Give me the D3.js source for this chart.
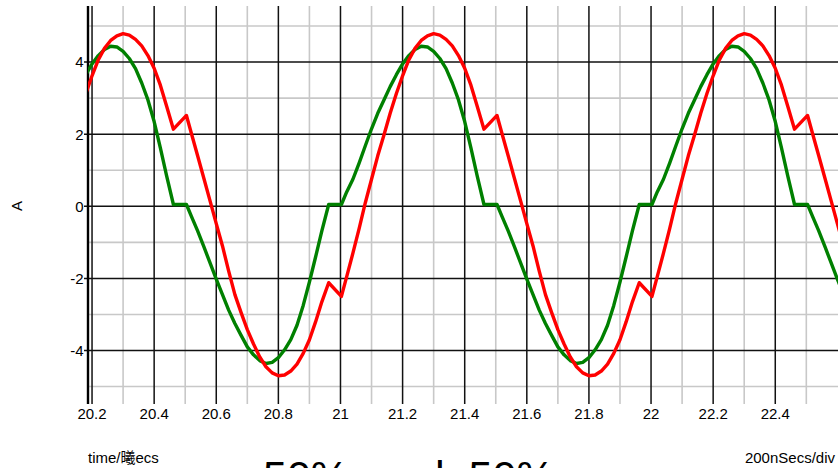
<!DOCTYPE html>
<html>
<head>
<meta charset="utf-8">
<script src="https://cdn.jsdelivr.net/npm/d3@7/dist/d3.min.js"></script>
<style>
  html, body { margin: 0; padding: 0; background: #fff; overflow: hidden; }
  svg { display: block; font-family: "Liberation Sans", Arial, "Noto Sans CJK SC", sans-serif; }
</style>
</head>
<body>
<svg id="chart" width="838" height="468"></svg>
<script>
// Sample times (µs)
const time = [
  20.18, 20.20, 20.22, 20.24, 20.26, 20.28, 20.30, 20.32, 20.34, 20.36, 20.38, 20.40, 20.42, 20.44, 20.462,
  20.504, 20.52, 20.54, 20.56, 20.58, 20.60, 20.62, 20.64, 20.66, 20.68, 20.70, 20.72, 20.74, 20.76, 20.78,
  20.80, 20.82, 20.84, 20.86, 20.88, 20.90, 20.92, 20.94, 20.962,
  21.003, 21.02, 21.04, 21.06, 21.08, 21.10, 21.12, 21.14, 21.16, 21.18, 21.20, 21.22, 21.24, 21.26, 21.28,
  21.30, 21.32, 21.34, 21.36, 21.38, 21.40, 21.42, 21.44, 21.462,
  21.504, 21.52, 21.54, 21.56, 21.58, 21.60, 21.62, 21.64, 21.66, 21.68, 21.70, 21.72, 21.74, 21.76, 21.78,
  21.80, 21.82, 21.84, 21.86, 21.88, 21.90, 21.92, 21.94, 21.962,
  22.003, 22.02, 22.04, 22.06, 22.08, 22.10, 22.12, 22.14, 22.16, 22.18, 22.20, 22.22, 22.24, 22.26, 22.28,
  22.30, 22.32, 22.34, 22.36, 22.38, 22.40, 22.42, 22.44, 22.462,
  22.504, 22.52, 22.54, 22.56, 22.58, 22.60, 22.62
];

// Red trace (A)
const redCurrent = [
  3.13, 3.62, 4.06, 4.38, 4.60, 4.73, 4.79, 4.75, 4.63, 4.45, 4.18, 3.83, 3.36, 2.78, 2.14,
  2.52, 2.02, 1.40, 0.78, 0.15, -0.48, -1.10, -1.80, -2.45, -2.95, -3.42, -3.82, -4.18, -4.45, -4.62,
  -4.70, -4.68, -4.57, -4.38, -4.08, -3.70, -3.20, -2.65, -2.12,
  -2.50, -1.95, -1.30, -0.62, 0.10, 0.75, 1.40, 1.98, 2.58, 3.13, 3.62, 4.06, 4.38, 4.60, 4.73,
  4.79, 4.75, 4.63, 4.45, 4.18, 3.83, 3.36, 2.78, 2.14,
  2.52, 2.02, 1.40, 0.78, 0.15, -0.48, -1.10, -1.80, -2.45, -2.95, -3.42, -3.82, -4.18, -4.45, -4.62,
  -4.70, -4.68, -4.57, -4.38, -4.08, -3.70, -3.20, -2.65, -2.12,
  -2.50, -1.95, -1.30, -0.62, 0.10, 0.75, 1.40, 1.98, 2.58, 3.13, 3.62, 4.06, 4.38, 4.60, 4.73,
  4.79, 4.75, 4.63, 4.45, 4.18, 3.83, 3.36, 2.78, 2.14,
  2.52, 2.02, 1.40, 0.78, 0.15, -0.48, -1.10
];

// Green trace (A)
const greenCurrent = [
  3.65, 3.95, 4.18, 4.35, 4.44, 4.42, 4.30, 4.10, 3.82, 3.42, 2.95, 2.35, 1.62, 0.85, 0.05,
  0.05, -0.28, -0.68, -1.12, -1.57, -2.02, -2.45, -2.88, -3.25, -3.58, -3.90, -4.12, -4.28, -4.36, -4.33,
  -4.20, -3.98, -3.70, -3.30, -2.75, -2.10, -1.40, -0.68, 0.05,
  0.05, 0.40, 0.75, 1.20, 1.68, 2.15, 2.58, 2.95, 3.32, 3.65, 3.95, 4.18, 4.35, 4.44, 4.42,
  4.30, 4.10, 3.82, 3.42, 2.95, 2.35, 1.62, 0.85, 0.05,
  0.05, -0.28, -0.68, -1.12, -1.57, -2.02, -2.45, -2.88, -3.25, -3.58, -3.90, -4.12, -4.28, -4.36, -4.33,
  -4.20, -3.98, -3.70, -3.30, -2.75, -2.10, -1.40, -0.68, 0.05,
  0.05, 0.40, 0.75, 1.20, 1.68, 2.15, 2.58, 2.95, 3.32, 3.65, 3.95, 4.18, 4.35, 4.44, 4.42,
  4.30, 4.10, 3.82, 3.42, 2.95, 2.35, 1.62, 0.85, 0.05,
  0.05, -0.28, -0.68, -1.12, -1.57, -2.02, -2.45
];

// Axis ticks and grid divisions
const xMajor = [20.2, 20.4, 20.6, 20.8, 21, 21.2, 21.4, 21.6, 21.8, 22, 22.2, 22.4];
const xMinor = [20.3, 20.5, 20.7, 20.9, 21.1, 21.3, 21.5, 21.7, 21.9, 22.1, 22.3, 22.5];
const yMajor = [-4, -2, 0, 2, 4];
const yMinor = [-5, -3, -1, 1, 3, 5];

const svg = d3.select("#chart");
const plot = { left: 88, right: 838, top: 6, bottom: 404 };

const x = d3.scaleLinear().domain([20.187, 22.602]).range([plot.left, plot.right]);
const y = d3.scaleLinear().domain([-5.484, 5.556]).range([plot.bottom, plot.top]);

svg.append("defs").append("clipPath").attr("id", "plotClip")
  .append("rect").attr("x", plot.left).attr("y", plot.top)
  .attr("width", plot.right - plot.left).attr("height", plot.bottom - plot.top);

// Minor grid (grey)
const grid = svg.append("g");
grid.append("g").selectAll("line").data(xMinor).join("line")
  .attr("x1", d => x(d)).attr("x2", d => x(d)).attr("y1", plot.top).attr("y2", plot.bottom)
  .attr("stroke", "#c8c8c8").attr("stroke-width", 1.6);
grid.append("g").selectAll("line").data(yMinor).join("line")
  .attr("x1", plot.left).attr("x2", plot.right).attr("y1", d => y(d)).attr("y2", d => y(d))
  .attr("stroke", "#c8c8c8").attr("stroke-width", 1.6);

// Major grid (black)
grid.append("g").selectAll("line").data(xMajor).join("line")
  .attr("x1", d => x(d)).attr("x2", d => x(d)).attr("y1", plot.top).attr("y2", plot.bottom)
  .attr("stroke", "#111").attr("stroke-width", 1.5);
grid.append("g").selectAll("line").data(yMajor).join("line")
  .attr("x1", plot.left - 4).attr("x2", plot.right).attr("y1", d => y(d)).attr("y2", d => y(d))
  .attr("stroke", "#111").attr("stroke-width", 1.5);

// Left axis line
svg.append("line").attr("x1", plot.left).attr("x2", plot.left)
  .attr("y1", plot.top).attr("y2", plot.bottom)
  .attr("stroke", "#000").attr("stroke-width", 2.4);

// Tick labels
svg.append("g").selectAll("text").data(yMajor).join("text")
  .attr("x", plot.left - 4.5).attr("y", d => y(d)).attr("dy", "0.36em")
  .attr("text-anchor", "end").attr("font-size", 15).attr("fill", "#000")
  .text(d => String(d));

svg.append("g").selectAll("text").data(xMajor).join("text")
  .attr("x", d => x(d)).attr("y", 419)
  .attr("text-anchor", "middle").attr("font-size", 15).attr("fill", "#000")
  .text(d => String(d));

// Traces
const pts = (vals) => time.map((t, i) => [t, vals[i]]);
const line = d3.line().x(d => x(d[0])).y(d => y(d[1]));
const traces = svg.append("g").attr("clip-path", "url(#plotClip)");
traces.append("path").datum(pts(greenCurrent))
  .attr("d", line).attr("fill", "none").attr("stroke", "#008000")
  .attr("stroke-width", 3.4).attr("stroke-linejoin", "round");
traces.append("path").datum(pts(redCurrent))
  .attr("d", line).attr("fill", "none").attr("stroke", "#ff0000")
  .attr("stroke-width", 3.4).attr("stroke-linejoin", "round");

// Axis titles and captions
svg.append("text").attr("transform", "translate(22,206) rotate(-90)")
  .attr("text-anchor", "middle").attr("font-size", 15).text("A");
svg.append("text").attr("x", 88).attr("y", 463).attr("font-size", 15).text("time/曦ecs");
svg.append("text").attr("x", 835).attr("y", 463).attr("text-anchor", "end")
  .attr("font-size", 15).text("200nSecs/div");
svg.append("text").attr("x", 263).attr("y", 491).attr("font-size", 43)
  .style("white-space", "pre").text("50%  and  50%");
</script>
</body>
</html>
